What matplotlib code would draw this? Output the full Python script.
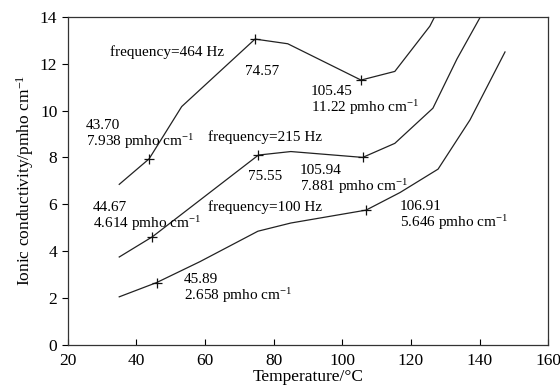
import numpy as np
import matplotlib
matplotlib.use("Agg")
import matplotlib.pyplot as plt

plt.rcParams['font.family'] = ['Liberation Serif', 'DejaVu Serif']
plt.rcParams['mathtext.fontset'] = 'custom'
plt.rcParams['mathtext.rm'] = 'Liberation Serif'
plt.rcParams['mathtext.it'] = 'Liberation Serif:italic'

# Curvas (temperatura en C, conductividad en pmho/cm)
t_464 = [35.0, 43.70, 53.2, 74.57, 84.1, 105.45, 115.3, 125.5, 129.0]
s_464 = [6.85, 7.938, 10.17, 13.05, 12.85, 11.30, 11.67, 13.6, 14.6]

t_215 = [35.0, 44.67, 75.55, 85.0, 105.94, 115.3, 126.4, 133.4, 141.0]
s_215 = [3.75, 4.614, 8.10, 8.25, 8.00, 8.60, 10.1, 12.2, 14.2]

t_100 = [35.0, 45.89, 58.5, 75.4, 85.0, 106.91, 116.8, 127.9, 137.2, 147.4]
s_100 = [2.05, 2.658, 3.55, 4.85, 5.20, 5.75, 6.50, 7.50, 9.60, 12.5]

# puntos marcados con '+'
mark_t = [43.70, 74.57, 105.45, 44.67, 75.55, 105.94, 45.89, 106.91]
mark_s = [7.938, 13.05, 11.30, 4.614, 8.10, 8.00, 2.658, 5.75]

fig, ax = plt.subplots(figsize=(5.6, 3.91), dpi=100)
fig.subplots_adjust(left=0.121, right=0.979, top=0.957, bottom=0.118)

for t, s in [(t_464, s_464), (t_215, s_215), (t_100, s_100)]:
    ax.plot(t, s, color='#222222', lw=0.9)
ax.plot(mark_t, mark_s, ls='none', marker='+', ms=7, mew=0.9, color='#111111')

fs = 11
unit = r'pmho cm$^{-1}$'
ax.text(32.2, 12.5, 'frequency=464 Hz', fontsize=fs, va='center')
ax.text(71.6, 11.67, '74.57', fontsize=fs, va='center')
ax.text(25.2, 8.95, '43.70\n7.938 ' + unit, fontsize=fs, va='center', linespacing=1.0)
ax.text(90.8, 10.4, '105.45\n11.22 ' + unit, fontsize=fs, va='center', linespacing=1.0)
ax.text(61.0, 8.85, 'frequency=215 Hz', fontsize=fs, va='center')
ax.text(72.5, 7.2, '75.55', fontsize=fs, va='center')
ax.text(87.6, 7.05, '105.94\n7.881 ' + unit, fontsize=fs, va='center', linespacing=1.0)
ax.text(61.0, 5.9, 'frequency=100 Hz', fontsize=fs, va='center')
ax.text(27.3, 5.45, '44.67\n4.614 ' + unit, fontsize=fs, va='center', linespacing=1.0)
ax.text(53.8, 2.4, '45.89\n2.658 ' + unit, fontsize=fs, va='center', linespacing=1.0)
ax.text(116.8, 5.5, '106.91\n5.646 ' + unit, fontsize=fs, va='center', linespacing=1.0)

ax.set_xlim(20, 160)
ax.set_ylim(0, 14)
ax.set_xticks(np.arange(20, 161, 20))
ax.set_yticks(np.arange(0, 15, 2))
ax.tick_params(axis='x', direction='in', labelsize=12.5, length=4, pad=6)
ax.tick_params(axis='y', direction='out', labelsize=12.5, length=4)
for sp in ax.spines.values():
    sp.set_color('#333333')
    sp.set_linewidth(0.9)
ax.set_xlabel('Temperature/°C', fontsize=12.5, labelpad=0)
ax.set_ylabel(r'Ionic conductivity/pmho cm$^{-1}$', fontsize=12.5, labelpad=3)

fig.savefig('out.png', dpi=100)
